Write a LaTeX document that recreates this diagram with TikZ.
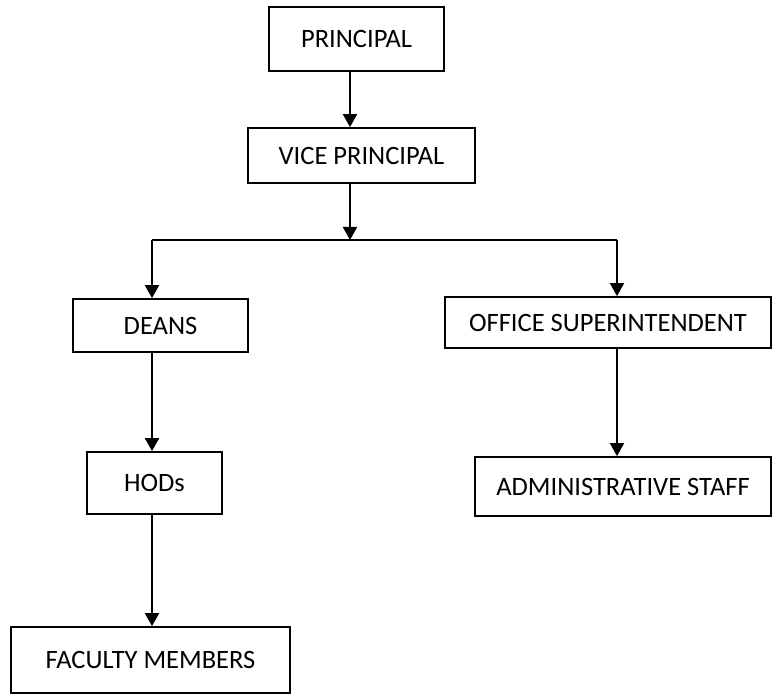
\documentclass[tikz,border=0pt]{standalone}
\usepackage{fontspec}
\setmainfont{Carlito}
\usetikzlibrary{arrows.meta}

\begin{document}
\begin{tikzpicture}[x=1pt, y=-1pt, every node/.style={rectangle, draw=black, line width=1.8pt, inner sep=0pt, font=\fontsize{26.5}{30}\selectfont}, wire/.style={draw=black, line width=2pt}, link/.style={wire, -{Triangle[length=13pt,width=14pt]}}]
				\useasboundingbox (0,0) rectangle (772,695);
				
				\node[minimum width=175pt, minimum height=64pt] (principal) at (356.5,39){PRINCIPAL};
				\node[minimum width=227pt, minimum height=55pt] (vice) at (361.5,155.5){VICE PRINCIPAL};
				\node[minimum width=175pt, minimum height=53pt] (deans) at (160.5,325.5){DEANS};
				\node[minimum width=326pt, minimum height=51pt] (office) at (608,322.5){OFFICE SUPERINTENDENT};
				\node[minimum width=135pt, minimum height=62pt] (hods) at (154.5,483){HODs};
				\node[minimum width=296pt, minimum height=59pt] (admin) at (623,486.5){ADMINISTRATIVE STAFF};
				\node[minimum width=279pt, minimum height=66pt] (faculty) at (150.5,660){FACULTY MEMBERS};
				
				\coordinate (split) at (350,240);
				\coordinate (lj) at (152,240);
				\coordinate (rj) at (617,240);
				
				\path[link] (principal.south -| split) -- (vice.north -| split);
				\path[link] (vice.south -| split) -- (split);
				\path[wire] (lj) -- (rj);
				\path[link] (lj) -- (deans.north -| lj);
				\path[link] (rj) -- (office.north -| rj);
				\path[link] (deans.south -| lj) -- (hods.north -| lj);
				\path[link] (hods.south -| lj) -- (faculty.north -| lj);
				\path[link] (office.south -| rj) -- (admin.north -| rj);
				\end{tikzpicture}
\end{document}
